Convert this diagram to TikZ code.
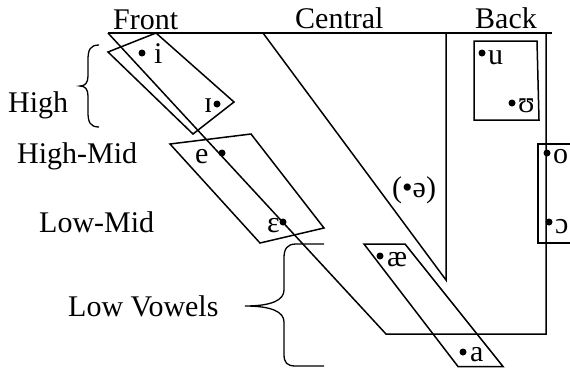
\documentclass[tikz,border=0pt]{standalone}
\usepackage{fontspec}
\setmainfont{Liberation Serif}
\begin{document}
\begin{tikzpicture}[x=1pt,y=-1pt,
  ln/.style={line width=1.5pt,line join=miter},
  lbl/.style={anchor=base west,inner sep=0pt,font=\fontsize{30}{36}\selectfont},
  vw/.style={anchor=base west,inner sep=0pt,font=\fontsize{30}{36}\selectfont},
  dotm/.style={fill=black,circle,inner sep=0pt,minimum size=7pt}]
\useasboundingbox (0,0) rectangle (570,368);
% main outline
\draw[ln] (108,33) -- (552,33);
\draw[ln] (546,33) -- (546,334) -- (386,334) -- (108,33);
% central region
\draw[ln] (263,33) -- (446,280) -- (446,33);
% vowel boxes
\draw[ln] (108,52) -- (156,33) -- (234,102) -- (193,134) -- cycle;
\draw[ln] (170,144) -- (251,134) -- (324,228) -- (260,243) -- cycle;
\draw[ln] (364,244) -- (405,244) -- (503,366.5) -- (458,366.5) -- cycle;
\draw[ln] (474,41) -- (537,41) -- (539,120) -- (474,120) -- cycle;
\draw[ln] (572,144) -- (538,144) -- (538,243) -- (572,243);
% braces
\draw[ln,line width=1.3pt] (99,45) .. controls (90,45) and (88,50) .. (88,60) -- (88,76)
  .. controls (88,83) and (85,86) .. (80,86) .. controls (85,86) and (88,89) .. (88,96)
  -- (88,112) .. controls (88,122) and (90,127) .. (99,127);
\draw[ln,line width=1.3pt] (324,244) -- (296,244) .. controls (287,244) and (284,249) .. (284,258)
  -- (284,290) .. controls (284,300) and (272,306) .. (245,306)
  .. controls (272,306) and (284,312) .. (284,322) -- (284,354)
  .. controls (284,363) and (287,366) .. (296,366) -- (324,366);
% labels
\node[lbl] (front) at (113,29) {Front};
\node[lbl] (central) at (295,28) {Central};
\node[lbl] (back) at (475,28) {Back};
\node[lbl] (high) at (8,112) {High};
\node[lbl] (highmid) at (17,163) {High-Mid};
\node[lbl] (lowmid) at (39,232) {Low-Mid};
\node[lbl] (lowv) at (68,316) {Low Vowels};
% vowels
\node[vw] (vi) at (154,63) {i};      \node[dotm] (di) at (142,53) {};
\node[vw] (vI) at (204,112) {ɪ};     \node[dotm] (dI) at (217,104) {};
\node[vw] (ve) at (195,163) {e};     \node[dotm] (de) at (222,153) {};
\node[vw] (vE) at (267,232) {ɛ};     \node[dotm] (dE) at (283,222) {};
\node[vw] (vschwa) at (392,197) {(•ə)};
\node[vw] (vae) at (387,266) {æ};    \node[dotm] (dae) at (380,256) {};
\node[vw] (va) at (470,361) {a};     \node[dotm] (da) at (463,352) {};
\node[vw] (vu) at (488,64) {u};      \node[dotm] (du) at (482,53) {};
\node[vw] (vU) at (518,112) {ʊ};     \node[dotm] (dU) at (512,103) {};
\node[vw] (vo) at (553,163) {o};     \node[dotm] (do) at (547,153) {};
\node[vw] (vO) at (555,233) {ɔ};     \node[dotm] (dO) at (549,222) {};
\end{tikzpicture}
\end{document}
